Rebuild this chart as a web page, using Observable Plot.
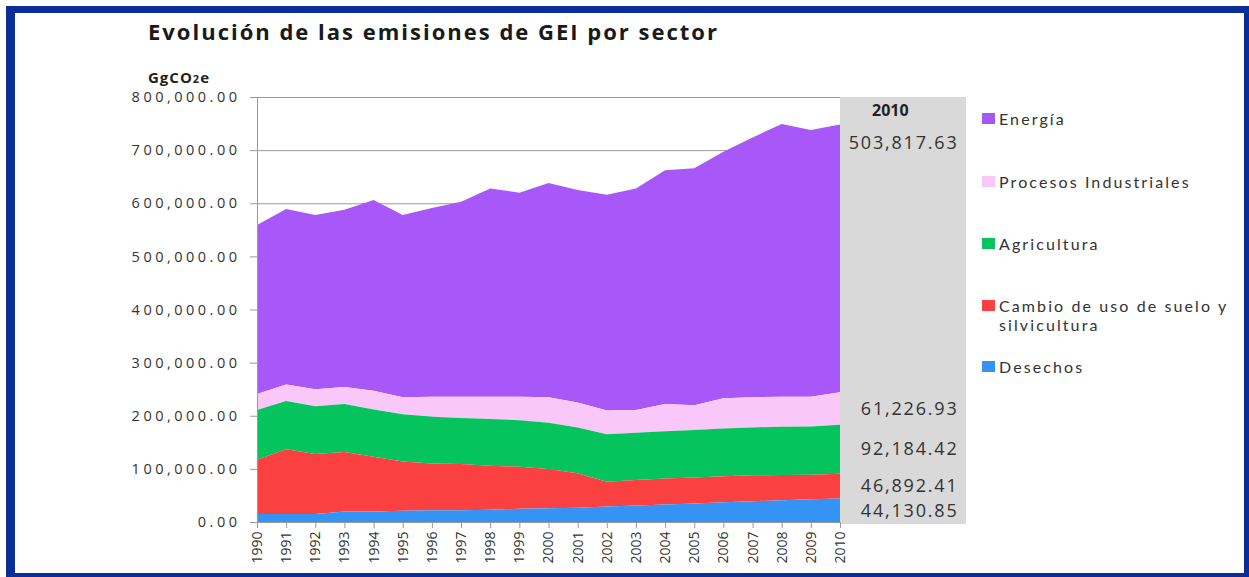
<!DOCTYPE html>
<html>
<head>
<meta charset="utf-8">
<script src="https://cdn.jsdelivr.net/npm/d3@7"></script>
<script src="https://cdn.jsdelivr.net/npm/@observablehq/plot@0.6"></script>
<style>
  html, body { margin: 0; padding: 0; background: #fff; }
  body { width: 1249px; height: 577px; position: relative; overflow: hidden; font-family: "Open Sans", Lato, sans-serif; }
  #frame { position: absolute; left: 6px; top: 6px; width: 1243px; height: 571px; box-sizing: border-box;
           border-style: solid; border-color: #0b2d96; border-width: 7px 5px 4px 9px; }
  #title { position: absolute; left: 148px; top: 16px; font-size: 22px; font-weight: 700; color: #1a1a1a; letter-spacing: 2px; white-space: nowrap; }
  #unit { position: absolute; left: 148px; top: 67px; font-size: 15px; font-weight: 700; color: #222; letter-spacing: 1px; }
  #unit span { font-size: 11px; }
  #panel { position: absolute; left: 840px; top: 97px; width: 126px; height: 427px; background: #d9d9d9; }
  #panelHead { position: absolute; left: 32px; top: 2px; font-size: 16px; font-weight: 700; color: #222; }
  #chart { position: absolute; left: 0; top: 0; }
  #legend { position: absolute; left: 982px; top: 0; font-family: Lato, "Open Sans", sans-serif; font-size: 16px; color: #333; letter-spacing: 2.1px; }
  .item { position: absolute; left: 0; white-space: nowrap; }
  .sw { position: absolute; left: 0; top: 4px; width: 13px; height: 11px; }
  .lab { position: absolute; left: 17px; top: 0; line-height: 19px; }
</style>
</head>
<body>
<div id="frame"></div>
<div id="title">Evolución de las emisiones de GEI por sector</div>
<div id="unit">GgCO<span>2</span>e</div>
<div id="panel"><div id="panelHead">2010</div></div>
<div id="chart"></div>
<div id="legend"></div>
<script>
// ---- data (GgCO2e) ----
const years = [1990,1991,1992,1993,1994,1995,1996,1997,1998,1999,2000,2001,2002,2003,2004,2005,2006,2007,2008,2009,2010];
const desechos    = [15000,15000,15000,20000,20000,21000,22000,22000,23000,25000,26000,27000,29000,31000,33000,35000,37000,39000,41000,43000,44130.85];
const cambioUso   = [102000,122000,113000,112000,103000,93000,88000,87000,83000,79000,74000,65000,47000,48000,49000,49000,49000,49000,47500,46000,46892.41];
const agricultura = [94000,91000,90000,90000,89000,89000,88000,87000,88000,87500,87000,86000,89000,89000,89000,89000,90000,90000,91000,91000,92184.42];
const procesos    = [30000,31000,32000,32000,35000,32000,38000,40000,42000,44500,48000,47000,45000,43000,51000,47000,57000,57000,56500,56000,61226.93];
const energia     = [318000,330000,328000,334000,359000,343000,355000,367000,392000,384000,403000,400000,406000,417000,440000,446000,464000,489000,513000,502000,503817.63];

const sectors = ["Energía","Procesos Industriales","Agricultura","Cambio de uso de suelo y silvicultura","Desechos"];
const colors  = ["#a858f8","#f9c8f9","#05c35d","#fa4040","#3593f4"];
const stackOrder = ["Desechos","Cambio de uso de suelo y silvicultura","Agricultura","Procesos Industriales","Energía"];
const seriesBySector = {
  "Energía": energia,
  "Procesos Industriales": procesos,
  "Agricultura": agricultura,
  "Cambio de uso de suelo y silvicultura": cambioUso,
  "Desechos": desechos
};
const yTicks = [0,100000,200000,300000,400000,500000,600000,700000,800000];
const legendLines = {
  "Energía": ["Energía"],
  "Procesos Industriales": ["Procesos Industriales"],
  "Agricultura": ["Agricultura"],
  "Cambio de uso de suelo y silvicultura": ["Cambio de uso de suelo y", "silvicultura"],
  "Desechos": ["Desechos"]
};

// ---- table ----
const data = [];
for (const s of sectors) years.forEach((yr, i) => data.push({year: yr, sector: s, value: seriesBySector[s][i]}));

// labels for last year: band midpoints for lower four, top label for Energía
const last = years.length - 1;
const fmt = d3.format(",.2f");
let cum = 0;
const lowLabels = [];
for (const s of stackOrder) {
  const v = seriesBySector[s][last];
  if (s !== "Energía") lowLabels.push({year: years[last], mid: cum + v / 2, text: fmt(v)});
  cum += v;
}
const topLabel = [{year: years[last], text: fmt(energia[last])}];

const plot = Plot.plot({
  width: 1249,
  height: 577,
  marginLeft: 257,
  marginRight: 409,
  marginTop: 97,
  marginBottom: 55,
  style: {background: "transparent", fontFamily: "'Open Sans', Lato, sans-serif", color: "#333", overflow: "visible"},
  x: {domain: [years[0], years[last]], label: null},
  y: {domain: [0, 800000], label: null},
  color: {domain: sectors, range: colors},
  marks: [
    Plot.gridY(yTicks, {stroke: "#9b9b9b", strokeOpacity: 1, strokeWidth: 1}),
    Plot.areaY(data, {x: "year", y: "value", fill: "sector", order: stackOrder, curve: "linear"}),
    Plot.ruleX([years[0]], {stroke: "#9b9b9b", strokeWidth: 1}),
    Plot.axisY({ticks: yTicks, tickFormat: fmt, tickSize: 7, tickPadding: 10, fontSize: 14.5, stroke: "#9b9b9b", fill: "#333"}),
    Plot.axisX({ticks: years, tickFormat: d => String(d), tickRotate: -90, tickSize: 6, tickPadding: 3, fontSize: 14, stroke: "#9b9b9b", fill: "#333"}),
    Plot.text(lowLabels, {x: "year", y: "mid", text: "text", textAnchor: "end", dx: 118, fontSize: 18, fill: "#333"}),
    Plot.text(topLabel, {x: "year", text: "text", frameAnchor: "top", textAnchor: "end", dx: 118, dy: 39, fontSize: 18, fill: "#333"})
  ]
});
// letter spacing to mimic the wide humanist face of the original
d3.select(plot).selectAll('g[aria-label="y-axis tick label"] text').style("letter-spacing", "3.5px");
d3.select(plot).selectAll('g[aria-label="text"] text').style("letter-spacing", "1.8px");
document.getElementById("chart").appendChild(plot);

// ---- legend ----
const legendTops = {"Energía": 109, "Procesos Industriales": 172, "Agricultura": 234, "Cambio de uso de suelo y silvicultura": 296, "Desechos": 357};
const lg = document.getElementById("legend");
sectors.forEach((s, i) => {
  const item = document.createElement("div");
  item.className = "item";
  item.style.top = legendTops[s] + "px";
  const sw = document.createElement("div");
  sw.className = "sw";
  sw.style.background = colors[i];
  const lab = document.createElement("div");
  lab.className = "lab";
  lab.innerHTML = legendLines[s].join("<br>");
  item.appendChild(sw);
  item.appendChild(lab);
  lg.appendChild(item);
});
</script>
</body>
</html>
